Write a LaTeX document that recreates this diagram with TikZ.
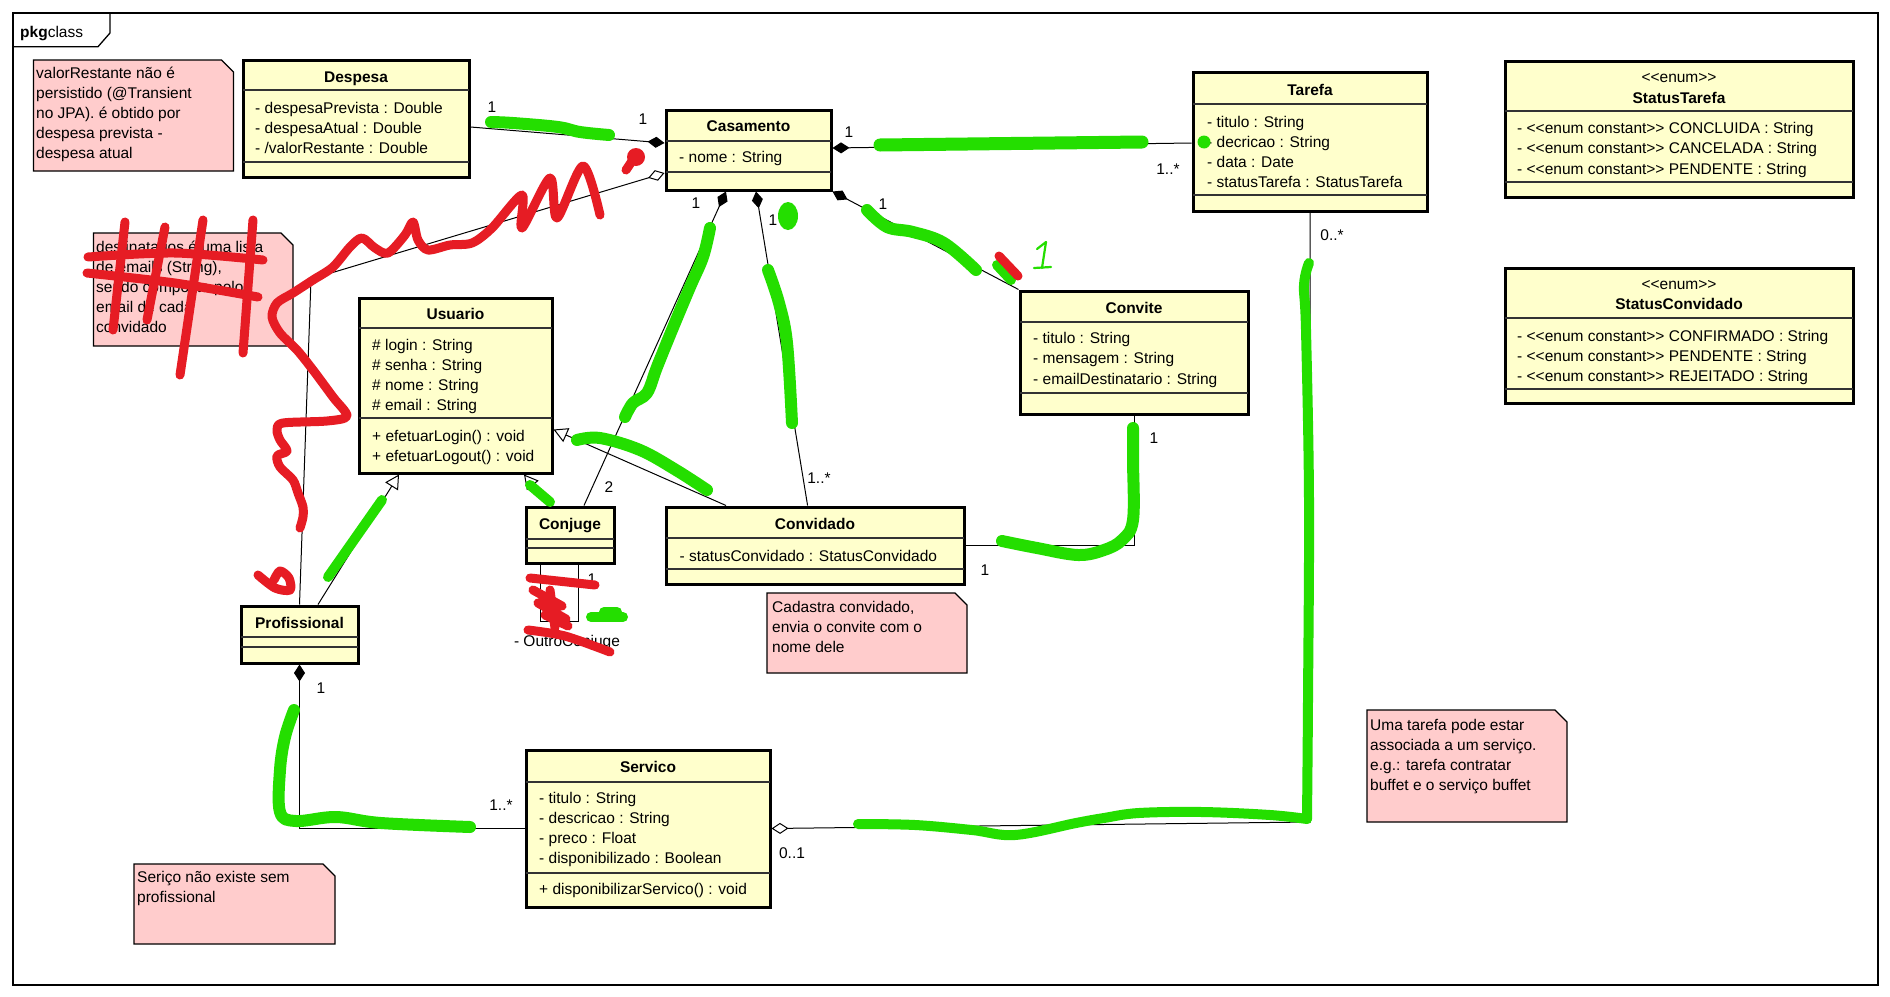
\documentclass[tikz,border=0pt]{standalone}
\usepackage{fontspec}
\setmainfont{Liberation Sans}
\usetikzlibrary{arrows.meta}
\definecolor{clsfill}{RGB}{255,255,204}
\definecolor{notefill}{RGB}{255,204,204}
\definecolor{markgreen}{RGB}{36,222,0}
\definecolor{markred}{RGB}{230,28,36}
\newcommand\ufont{\fontsize{15.5pt}{19pt}\selectfont}
% stereotype brackets kept apart so they are not turned into guillemets
\newcommand\llt{<\kern0pt<}
\newcommand\ggt{>\kern0pt>}
% one text node per line: prefix, x, first baseline, line step, list of lines
\newcommand\textlines[5]{%
  \foreach \t [count=\i] in {#5}
    \node[attr] (#1-\i) at (#2,{#3+#4*(\i-1)}) {\t};}
% note sheet with a cut corner
\newcommand\notebox[4]{%
  \filldraw[notebg] (#1,#2) -- ({#3-12},#2) -- (#3,{#2+12}) -- (#3,#4) -- (#1,#4) -- cycle;}
\tikzset{
  cls/.style={draw=black, line width=3pt, fill=clsfill, rectangle, inner sep=0pt},
  sepl/.style={draw=black!80, line width=1.3pt},
  ttl/.style={font=\ufont\bfseries, inner sep=0pt, anchor=base},
  attr/.style={font=\ufont, inner sep=0pt, anchor=base west},
  lbl/.style={font=\ufont, inner sep=0pt},
  notebg/.style={fill=notefill, draw=black, line width=1.1pt},
  conn/.style={draw=black, line width=1pt},
  gmark/.style={draw=markgreen, line width=12pt, line cap=round, line join=round},
  rmark/.style={draw=markred, line width=9pt, line cap=round, line join=round},
  compo/.tip={Diamond[length=17pt,width=11pt]},
  aggr/.tip={Diamond[length=17pt,width=11pt,fill=white]},
  gen/.tip={Triangle[length=14pt,width=15pt,fill=white]},
}
\begin{document}
\begin{tikzpicture}[x=1pt,y=-1pt]
\useasboundingbox (0,0) rectangle (1890,996);
\fill[white] (0,0) rectangle (1890,996);

% package frame and its tab
\draw[line width=1.3pt] (13,13) rectangle (1878,985);
\draw[line width=1.3pt] (13,46.7) -- (98,46.7) -- (110,33) -- (110,13);
\node[attr] (pkg) at (20,37) {\textbf{pkg}class};

% notes
\notebox{33.5}{60}{233.5}{171}
\textlines{noteA}{36}{78}{20}{{valorRestante não é},{persistido (@Transient},{no JPA). é obtido por},{despesa prevista -},{despesa atual}}
\notebox{93.5}{233}{293}{346}
\textlines{noteB}{96}{252}{20}{{destinatarios é uma lista},{de emails (String),},{sendo composta pelo},{email de cada},{convidado}}
\notebox{767}{593}{967}{673}
\textlines{noteC}{772}{612}{20}{{Cadastra convidado,},{envia o convite com o},{nome dele}}
\notebox{1367}{710}{1567}{822}
\textlines{noteD}{1370}{730}{20}{{Uma tarefa pode estar},{associada a um serviço.},{e.g.: tarefa contratar},{buffet e o serviço buffet}}
\notebox{134}{864}{335}{944}
\textlines{noteE}{137}{882}{20}{{Seriço não existe sem},{profissional}}

% classes
\node[cls, minimum width=226pt, minimum height=117pt] (despesa) at (356,118.5) {};
\draw[sepl] (243,90) -- (469,90); \draw[sepl] (243,162) -- (469,162);
\node[ttl] (despesa-n) at (356,82) {Despesa};
\textlines{despesa-a}{255}{113}{20}{{- despesaPrevista : Double},{- despesaAtual : Double},{- /valorRestante : Double}}

\node[cls, minimum width=165pt, minimum height=80pt] (casamento) at (748.5,150) {};
\draw[sepl] (666,141) -- (831,141); \draw[sepl] (666,172) -- (831,172);
\node[ttl] (casamento-n) at (748.5,131) {Casamento};
\textlines{casamento-a}{679}{162}{20}{{- nome : String}}

\node[cls, minimum width=234pt, minimum height=139pt] (tarefa) at (1310,141.5) {};
\draw[sepl] (1193,104) -- (1427,104); \draw[sepl] (1193,195) -- (1427,195);
\node[ttl] (tarefa-n) at (1310,95) {Tarefa};
\textlines{tarefa-a}{1207}{127}{20}{{- titulo : String},{- decricao : String},{- data : Date},{- statusTarefa : StatusTarefa}}

\node[cls, minimum width=348pt, minimum height=136pt] (statusT) at (1679,129) {};
\draw[sepl] (1505,111) -- (1853,111); \draw[sepl] (1505,182) -- (1853,182);
\node[lbl, anchor=base] (statusT-s) at (1679,82) {\llt enum\ggt};
\node[ttl] (statusT-n) at (1679,103) {StatusTarefa};
\textlines{statusT-a}{1517}{133}{20.5}{{- \llt enum constant\ggt{} CONCLUIDA : String},{- \llt enum constant\ggt{} CANCELADA : String},{- \llt enum constant\ggt{} PENDENTE : String}}

\node[cls, minimum width=348pt, minimum height=135pt] (statusC) at (1679,335.5) {};
\draw[sepl] (1505,318) -- (1853,318); \draw[sepl] (1505,389) -- (1853,389);
\node[lbl, anchor=base] (statusC-s) at (1679,289) {\llt enum\ggt};
\node[ttl] (statusC-n) at (1679,309) {StatusConvidado};
\textlines{statusC-a}{1517}{341}{20}{{- \llt enum constant\ggt{} CONFIRMADO : String},{- \llt enum constant\ggt{} PENDENTE : String},{- \llt enum constant\ggt{} REJEITADO : String}}

\node[cls, minimum width=193pt, minimum height=175pt] (usuario) at (455.5,385.5) {};
\draw[sepl] (359,328) -- (552,328); \draw[sepl] (359,418) -- (552,418);
\node[ttl] (usuario-n) at (455.5,319) {Usuario};
\textlines{usuario-a}{372}{350}{20.3}{{\# login : String},{\# senha : String},{\# nome : String},{\# email : String}}
\textlines{usuario-m}{372}{441}{20.5}{{+ efetuarLogin() : void},{+ efetuarLogout() : void}}

\node[cls, minimum width=88pt, minimum height=56pt] (conjuge) at (570,535) {};
\draw[sepl] (526,539) -- (614,539); \draw[sepl] (526,548) -- (614,548);
\node[ttl] (conjuge-n) at (570,529) {Conjuge};

\node[cls, minimum width=117pt, minimum height=57pt] (profissional) at (299.5,634.5) {};
\draw[sepl] (241,637) -- (358,637); \draw[sepl] (241,647) -- (358,647);
\node[ttl] (profissional-n) at (299.5,628) {Profissional};

\node[cls, minimum width=228pt, minimum height=123pt] (convite) at (1134,352.5) {};
\draw[sepl] (1020,322) -- (1248,322); \draw[sepl] (1020,393) -- (1248,393);
\node[ttl] (convite-n) at (1134,313) {Convite};
\textlines{convite-a}{1033}{343}{20.5}{{- titulo : String},{- mensagem : String},{- emailDestinatario : String}}

\node[cls, minimum width=298pt, minimum height=77pt] (convidado) at (815,545.5) {};
\draw[sepl] (666,538) -- (964,538); \draw[sepl] (666,569) -- (964,569);
\node[ttl] (convidado-n) at (815,529) {Convidado};
\textlines{convidado-a}{679.5}{561}{20}{{- statusConvidado : StatusConvidado}}

\node[cls, minimum width=244pt, minimum height=157pt] (servico) at (648,828.5) {};
\draw[sepl] (526,782) -- (770,782); \draw[sepl] (526,873) -- (770,873);
\node[ttl] (servico-n) at (648,772) {Servico};
\textlines{servico-a}{539}{803}{20}{{- titulo : String},{- descricao : String},{- preco : Float},{- disponibilizado : Boolean}}
\textlines{servico-m}{539}{894}{20}{{+ disponibilizarServico() : void}}

% connectors
\coordinate (pcorner) at (311,279);
\coordinate (tcorner) at (1310,822);
\draw[conn, -compo] ([yshift=-8.5pt]despesa.east) -- ([yshift=7pt]casamento.west);
\draw[conn, -aggr] (profissional.north) -- (pcorner) -- ([yshift=-23pt]casamento.west);
\draw[conn, compo-] ([yshift=2pt]casamento.east) -- ([yshift=-1.5pt]tarefa.west);
\draw[conn, compo-] ([xshift=-22.5pt]casamento.south) -- ([xshift=14pt]conjuge.north);
\draw[conn, compo-] ([xshift=7.5pt]casamento.south) -- ([xshift=-7.4pt]convidado.north);
\draw[conn, compo-] (casamento.south east) -- (convite.north west);
\draw[conn] (convite.south) |- (convidado.east);
\draw[conn, compo-] (profissional.south) |- (servico.west);
\draw[conn, aggr-] (servico.east) -- (tcorner) -- (tarefa.south);
\draw[conn, -gen] ([xshift=18.5pt]profissional.north) -- ([xshift=-56.5pt]usuario.south);
\draw[conn, -gen] ([xshift=-21pt]conjuge.north) -- ([xshift=68.5pt]usuario.south);
\draw[conn, -gen] ([xshift=-89pt]convidado.north) -- ([yshift=-44pt]usuario.east);
\draw[conn] ([xshift=-29.3pt]conjuge.south) -- ++(0,57) -| ([xshift=8.7pt]conjuge.south);

% multiplicities
\node[lbl] (m-desp) at (492,107) {1};
\node[lbl] (m-cas1) at (643,119) {1};
\node[lbl] (m-cas2) at (849,132) {1};
\node[lbl] (m-tar) at (1168,169) {1..*};
\node[lbl] (m-cas3) at (696,203) {1};
\node[lbl] (m-cas4) at (773,220) {1};
\node[lbl] (m-cas5) at (883,204) {1};
\node[lbl] (m-conj) at (609,487) {2};
\node[lbl] (m-conv) at (819,478) {1..*};
\node[lbl] (m-cvt) at (1154,438) {1};
\node[lbl] (m-cvd) at (985,570) {1};
\node[lbl] (m-tar2) at (1332,235) {0..*};
\node[lbl] (m-prof) at (321,688) {1};
\node[lbl] (m-serv) at (501,805) {1..*};
\node[lbl] (m-serv2) at (792,853) {0..1};
\node[lbl] (m-self) at (592,579) {1};
\node[lbl] (role-self) at (567,642) {- OutroConjuge};

% green marker strokes
\draw[gmark] plot[smooth, tension=0.6] coordinates {(491,122) (513,123) (558,127) (580,132) (609,135)};
\draw[gmark, line width=13pt] (880,145) -- (1142,142);
\fill[markgreen] (1204,142) circle [radius=6.5pt];
\draw[gmark] plot[smooth, tension=0.6] coordinates {(710,228) (703,257) (690,287) (672,330) (657,367) (647,393) (633,403) (625,417)};
\draw[gmark] plot[smooth, tension=0.6] coordinates {(768,270) (779,303) (787,343) (792,423)};
\fill[markgreen] (788,216) ellipse [x radius=10pt, y radius=14pt];
\draw[gmark] plot[smooth, tension=0.6] coordinates {(867,210) (887,227) (913,232) (944,243) (976,270)};
\draw[gmark, line width=10pt] (997,265) -- (1011,280);
\draw[markgreen, line width=2.2pt, line cap=round, line join=round] (1037,249) -- (1046,242) -- (1042,268);
\draw[markgreen, line width=2.2pt, line cap=round] (1034,268) -- (1051,267);
\draw[gmark, line width=10pt] plot[smooth, tension=0.6] coordinates {(1309,263) (1304,285) (1306,330) (1309,500) (1308,700) (1307,819)};
\draw[gmark, line width=10pt] plot[smooth, tension=0.6] coordinates {(1307,819) (1270,815) (1202,812) (1139,813) (1104,818) (1076,823) (1015,835) (972,830) (915,825) (858,824)};
\draw[gmark] plot[smooth, tension=0.6] coordinates {(294,710) (285,737) (280,770) (280,812) (296,821) (336,817) (381,823) (470,827)};
\draw[gmark] plot[smooth, tension=0.6] coordinates {(1133,428) (1133,460) (1133,520) (1122,540) (1104,550) (1078,555) (1037,548) (1002,541)};
\draw[gmark] plot[smooth, tension=0.6] coordinates {(577,440) (600,438) (640,450) (676,470) (707,490)};
\draw[gmark, line width=10pt] (382,500) -- (328,577);
\draw[gmark, line width=10pt] (530,485) -- (550,502);
\draw[gmark, line width=10pt] (591,617) -- (623,617);
\draw[gmark, line width=10pt] (604,612) -- (617,612);

% red marker strokes
\fill[markred] (636,157) circle [radius=9pt];
\draw[rmark] (634,158) -- (626,170);
\draw[rmark, line width=9pt] (999,256) -- (1018,276);
\draw[rmark] plot[smooth, tension=0.5] coordinates {(300,528) (303,517) (303,507) (298,493) (293,480) (280,467) (277,456) (287,451) (280,440) (277,430) (283,423) (327,421) (347,416) (333,397) (313,370) (297,350) (280,333) (272,317) (277,303) (293,293) (313,280) (333,267) (350,247) (362,238) (375,248) (388,253) (405,235) (413,222) (418,240) (428,250) (450,245) (472,243) (492,228) (522,195) (522,228) (550,178) (557,218) (583,166) (600,215)};
\draw[rmark] (125,222) -- (113,330);
\draw[rmark] (165,227) -- (147,320);
\draw[rmark] (203,220) -- (180,375);
\draw[rmark] (253,220) -- (243,353);
\draw[rmark] plot[smooth, tension=0.5] coordinates {(88,257) (175,253) (263,260)};
\draw[rmark] plot[smooth, tension=0.5] coordinates {(87,273) (175,283) (258,297)};
\draw[rmark] plot[smooth, tension=0.5] coordinates {(258,575) (275,588) (290,590) (289,578) (280,571) (274,580)};
\draw[rmark] (530,578) -- (595,585);
\draw[rmark] (533,590) -- (562,606) -- (538,603) -- (566,619) -- (545,615) -- (568,626);
\draw[rmark] (550,590) -- (555,628);
\draw[rmark] plot[smooth, tension=0.5] coordinates {(528,630) (565,636) (610,652)};
\end{tikzpicture}
\end{document}
